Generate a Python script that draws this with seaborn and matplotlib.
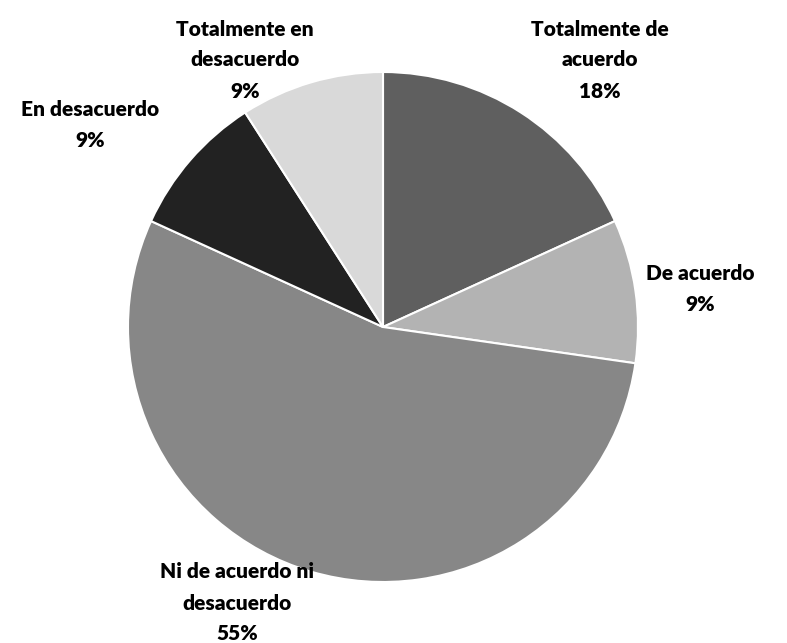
import matplotlib
matplotlib.use("Agg")
import matplotlib.pyplot as plt
import seaborn as sns
import pandas as pd

# datos de la encuesta (11 respuestas)
categorias = ["Totalmente de acuerdo", "De acuerdo", "Ni de acuerdo ni desacuerdo",
              "En desacuerdo", "Totalmente en desacuerdo"]
respuestas = [2, 1, 6, 1, 1]
etiquetas = ["Totalmente de\nacuerdo", "De acuerdo", "Ni de acuerdo ni\ndesacuerdo",
             "En desacuerdo", "Totalmente en\ndesacuerdo"]
colores = ["#5f5f5f", "#b3b3b3", "#878787", "#222222", "#d9d9d9"]

df = pd.DataFrame({"categoria": categorias, "n": respuestas, "etiqueta": etiquetas})
df["pct"] = df["n"] / df["n"].sum() * 100

sns.set_theme(style="white")
plt.rcParams['font.family'] = ['Lato', 'DejaVu Sans']

W, H = 787, 643
cx, cy, r = 383, 327, 255
fig = plt.figure(figsize=(W / 100, H / 100), dpi=100)
ax = fig.add_axes([0, 0, 1, 1])

ax.pie(df["n"], colors=colores, startangle=90, counterclock=False, radius=1,
       wedgeprops=dict(edgecolor="white", linewidth=1.5))
ax.set_xlim(-cx / r, (W - cx) / r)
ax.set_ylim(-(H - cy) / r, cy / r)
ax.set_aspect("auto")
ax.axis("off")

# posiciones de las etiquetas en pixeles
pos = [(600, 60), (700, 289), (237, 603), (90, 125), (245, 60)]
for (px, py), lab, p in zip(pos, df["etiqueta"], df["pct"]):
    ax.text((px - cx) / r, (cy - py) / r, f"{lab}\n{p:.0f}%", ha="center", va="center",
            fontsize=15, fontweight="heavy", color="black", linespacing=1.75)

plt.savefig("out.png", dpi=100)
